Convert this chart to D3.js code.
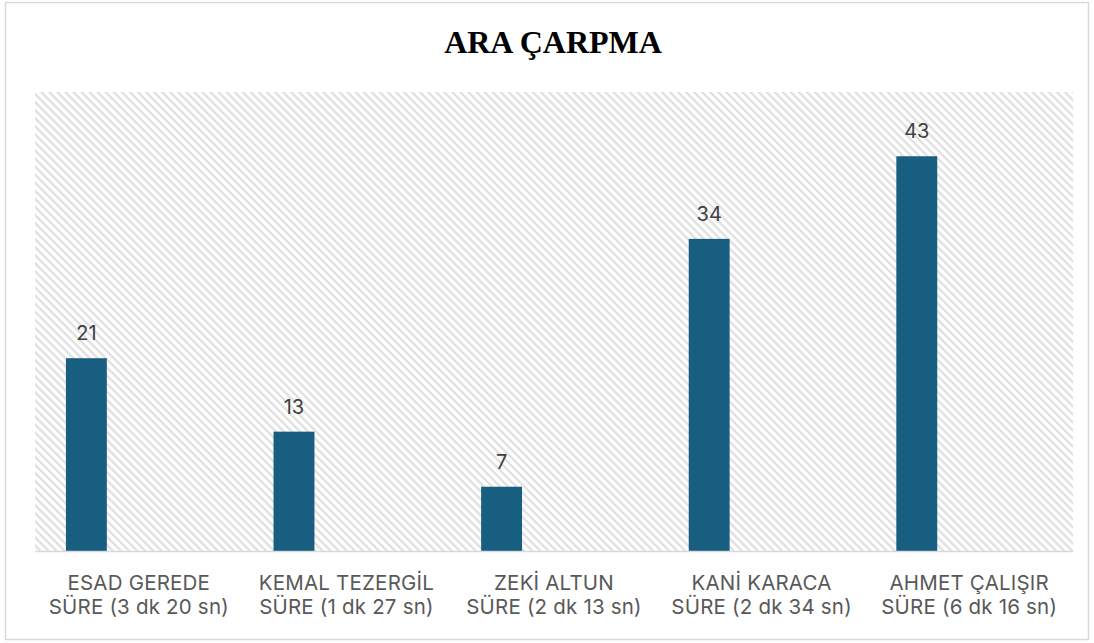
<!DOCTYPE html>
<html>
<head>
<meta charset="utf-8">
<script src="https://cdn.jsdelivr.net/npm/d3@7"></script>
<style>
  body { margin: 0; background: #fff; }
  .cat { font-family: Inter, "Open Sans", sans-serif; font-size: 20.5px; letter-spacing: 0.2px; fill: #595959; }
  .val { font-family: Inter, "Open Sans", sans-serif; font-size: 20px; fill: #404040; }
  .title { font-family: "Liberation Serif", "Times New Roman", serif; font-size: 32px; font-weight: bold; fill: #000; }
</style>
</head>
<body>
<div id="chart"></div>
<script>
const TITLE = "ARA ÇARPMA"
const names = ["ESAD GEREDE", "KEMAL TEZERGİL", "ZEKİ ALTUN", "KANİ KARACA", "AHMET ÇALIŞIR"]
const durations = ["SÜRE (3 dk 20 sn)", "SÜRE (1 dk 27 sn)", "SÜRE (2 dk 13 sn)", "SÜRE (2 dk 34 sn)", "SÜRE (6 dk 16 sn)"]
const values = [21, 13, 7, 34, 43]
const Y_MAX = 50

const W = 1094, H = 643
const margin = { top: 92, right: 21, bottom: 92, left: 35 }
const pw = W - margin.left - margin.right
const ph = H - margin.top - margin.bottom

const svg = d3.select("#chart").append("svg")
    .attr("width", W)
    .attr("height", H)

// diagonal hatch for the plot area
const pat = svg.append("defs").append("pattern")
    .attr("id", "hatch")
    .attr("patternUnits", "userSpaceOnUse")
    .attr("width", 5.7)
    .attr("height", 5.7)
    .attr("patternTransform", "rotate(45)")
pat.append("line")
    .attr("x1", 0).attr("x2", 5.7)
    .attr("y1", 1.4).attr("y2", 1.4)
    .attr("stroke", "#dadada")
    .attr("stroke-width", 2)

// outer chart frame
svg.append("rect")
    .attr("x", 5.5).attr("y", 2.5)
    .attr("width", 1083).attr("height", 637)
    .attr("fill", "#fff")
    .attr("stroke", "#d9d9d9")
    .attr("stroke-width", 1.5)

svg.append("text")
    .attr("class", "title")
    .attr("x", W / 2 + 6)
    .attr("y", 53)
    .attr("text-anchor", "middle")
    .text(TITLE)

const g = svg.append("g")
    .attr("transform", "translate(" + margin.left + "," + margin.top + ")")

g.append("rect")
    .attr("width", pw)
    .attr("height", ph)
    .attr("fill", "url(#hatch)")

const x = d3.scaleBand()
    .domain(names)
    .range([0, pw])
    .padding(0)

const y = d3.scaleLinear()
    .domain([0, Y_MAX])
    .range([ph, 0])

// bar sits in the left part of each category slot (like excel with empty series)
const barW = x.bandwidth() * 0.197
const barOff = x.bandwidth() * 0.149

const data = names.map((n, i) => ({ name: n, dur: durations[i], value: values[i] }))

g.selectAll(".bar")
    .data(data)
    .enter().append("rect")
    .attr("class", "bar")
    .attr("x", d => x(d.name) + barOff)
    .attr("y", d => y(d.value))
    .attr("width", barW)
    .attr("height", d => y(0) - y(d.value))
    .attr("fill", "#175e80")

g.selectAll(".val")
    .data(data)
    .enter().append("text")
    .attr("class", "val")
    .attr("x", d => x(d.name) + barOff + barW / 2)
    .attr("y", d => y(d.value) - 18)
    .attr("text-anchor", "middle")
    .text(d => d.value)

// baseline
g.append("line")
    .attr("x1", 0).attr("x2", pw)
    .attr("y1", y(0) + 0.5).attr("y2", y(0) + 0.5)
    .attr("stroke", "#d9d9d9")
    .attr("stroke-width", 1.5)

const labels = g.selectAll(".cat")
    .data(data)
    .enter().append("text")
    .attr("class", "cat")
    .attr("x", d => x(d.name) + x.bandwidth() / 2)
    .attr("y", ph + 39)
    .attr("text-anchor", "middle")

labels.append("tspan").text(d => d.name)
labels.append("tspan")
    .attr("x", d => x(d.name) + x.bandwidth() / 2)
    .attr("dy", 23.5)
    .text(d => d.dur)
</script>
</body>
</html>
